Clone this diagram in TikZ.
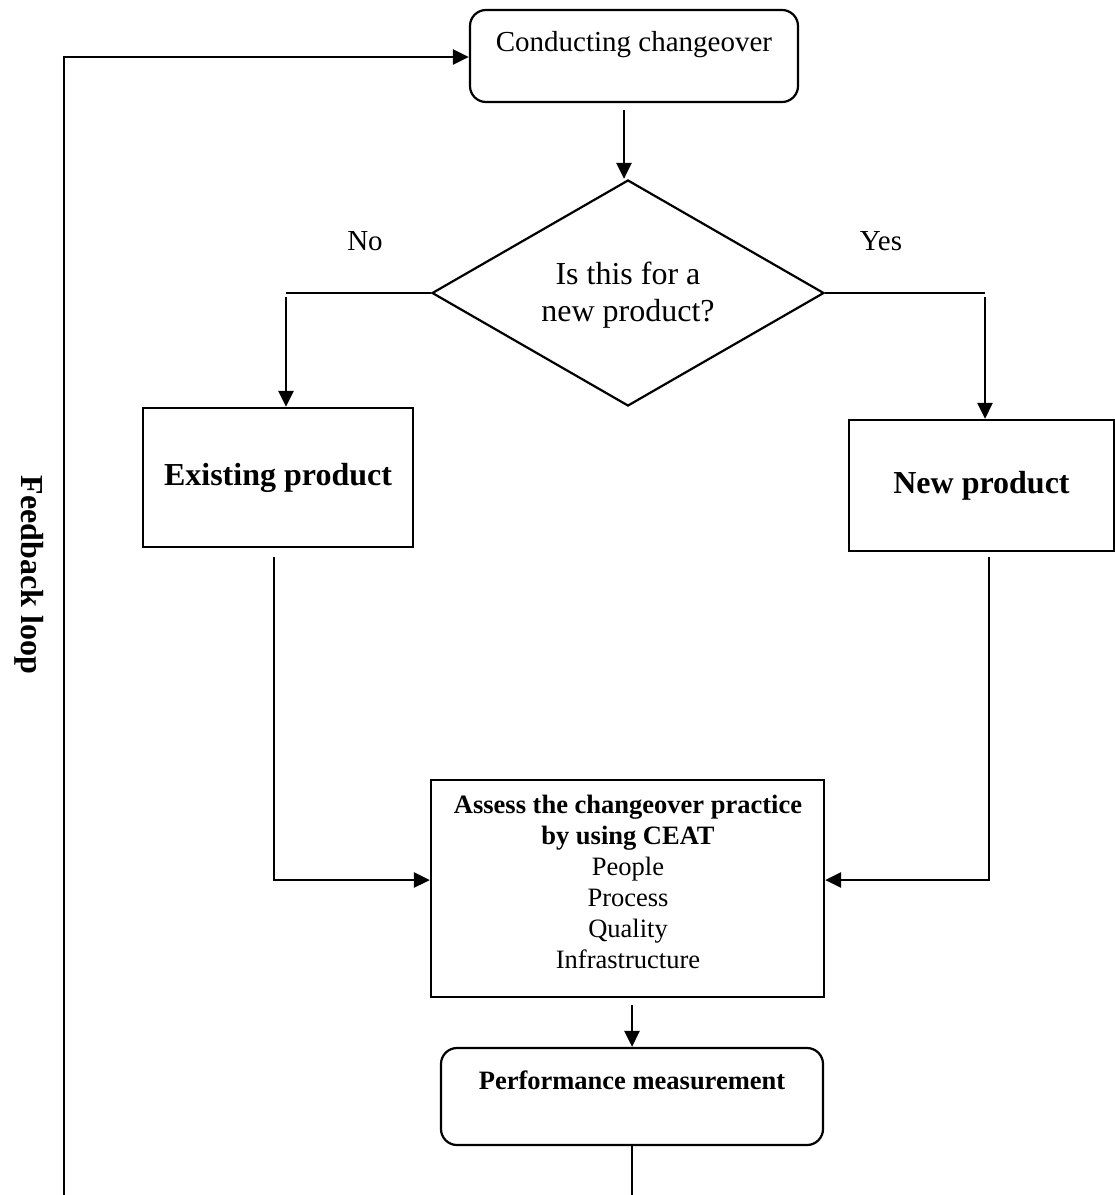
\documentclass[tikz,border=0pt]{standalone}
\usepackage{fontspec}
\setmainfont{Liberation Serif}
\usetikzlibrary{arrows.meta,shapes.geometric}
\begin{document}
\begin{tikzpicture}[x=1pt,y=-1pt,line width=2.2pt,
  arr/.style={line width=2.8pt,-{Triangle[length=16pt,width=15pt]}},
  wire/.style={line width=2.4pt},
  box/.style={draw,rectangle,inner sep=0pt},
  rbox/.style={draw,rectangle,rounded corners=16pt,inner sep=0pt},
  decision/.style={draw,diamond,inner sep=0pt},
  big/.style={font=\fontsize{32}{37}\selectfont\bfseries},
  mid/.style={font=\fontsize{29}{34}\selectfont},
  small/.style={align=center,font=\fontsize{26.5}{31}\selectfont}]
\useasboundingbox (0,0) rectangle (1115,1195);

% boxes
\node[rbox,minimum width=328pt,minimum height=92pt] (conduct) at (634,56) {};
\node[mid] (conductT) at (634,45) {Conducting changeover};

\node[decision,minimum width=392pt,minimum height=226pt] (q) at (628,293) {};
\node[align=center,font=\fontsize{32}{37}\selectfont] (qT) at (628,295)
  {Is this for a\\new product?};
\node[mid] (no) at (365,241) {No};
\node[mid] (yes) at (881,241) {Yes};

\node[box,minimum width=270pt,minimum height=139pt,big] (exist) at (278,477.5)
  {Existing product};
\node[box,minimum width=265pt,minimum height=131pt,big] (new) at (981.5,485.5)
  {New product};

\node[box,minimum width=393pt,minimum height=217pt] (assess) at (627.5,888.5) {};
\node[small] (assessT) at (628,882)
  {\textbf{Assess the changeover practice}\\\textbf{by using CEAT}\\
   People\\Process\\Quality\\Infrastructure};

\node[rbox,minimum width=382pt,minimum height=97pt] (perf) at (632,1096.5) {};
\node[small,font=\fontsize{26.5}{31}\selectfont\bfseries] (perfT) at (632,1080)
  {Performance measurement};

\node[big,rotate=-90] (fbT) at (29,575) {Feedback loop};

% connectors
\coordinate (downX) at (624,0);
\coordinate (nobend) at (286,293);
\coordinate (yesbend) at (985,293);
\coordinate (exOut) at (274,557);
\coordinate (exTurn) at (274,880);
\coordinate (newOut) at (989,557);
\coordinate (newTurn) at (989,880);
\coordinate (perfEnd) at (632,1195);
\coordinate (fbStart) at (64,1195);
\coordinate (fbTurn) at (64,57);

\draw[arr] (downX |- conduct.south) ++(0,7) -- (downX |- q.north);
\draw[wire] (q.west) -- (nobend);
\draw[arr] (nobend) ++(0,4) -- (exist.north -| nobend);
\draw[wire] (q.east) -- (yesbend);
\draw[arr] (yesbend) ++(0,4) -- (new.north -| yesbend);
\draw[arr] (exOut) -- (exTurn) -- (assess.west |- exTurn);
\draw[arr] (newOut) -- (newTurn) -- (assess.east |- newTurn);
\draw[arr] (perf.north |- assess.south) ++(0,7) -- (perf.north);
\draw[wire] (perf.south) -- (perfEnd);
\draw[arr] (fbStart) -- (fbTurn) -- (conduct.west |- fbTurn);
\end{tikzpicture}
\end{document}
